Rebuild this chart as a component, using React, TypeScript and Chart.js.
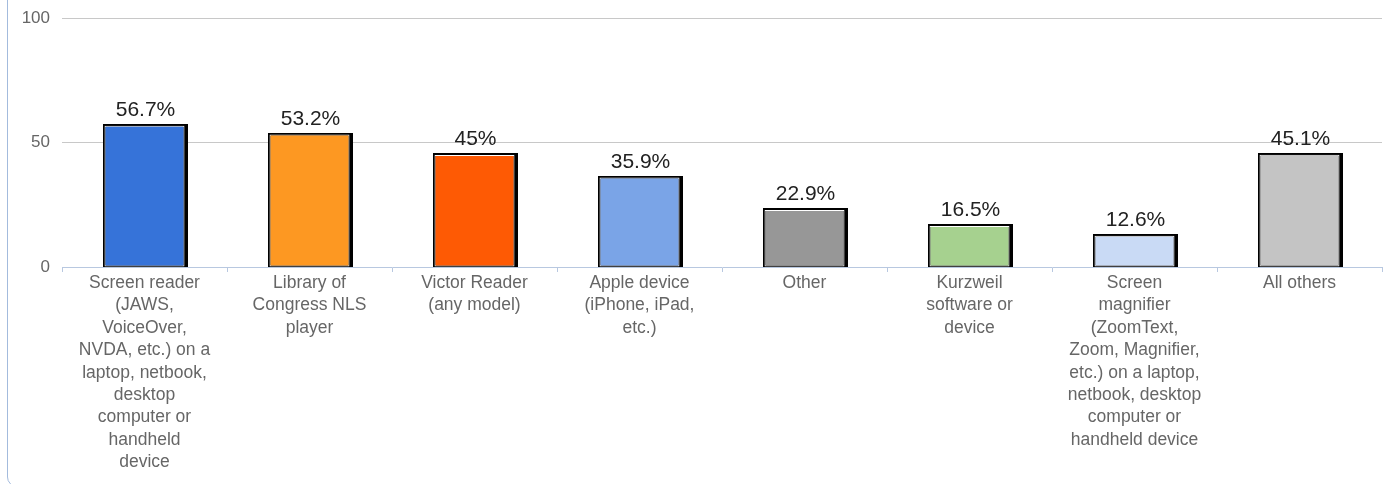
import React, { useEffect, useRef } from "react";
import { Chart, registerables } from "chart.js";

Chart.register(...registerables);

const categories: string[][] = [
  ["Screen reader", "(JAWS,", "VoiceOver,", "NVDA, etc.) on a", "laptop, netbook,", "desktop", "computer or", "handheld", "device"],
  ["Library of", "Congress NLS", "player"],
  ["Victor Reader", "(any model)"],
  ["Apple device", "(iPhone, iPad,", "etc.)"],
  ["Other"],
  ["Kurzweil", "software or", "device"],
  ["Screen", "magnifier", "(ZoomText,", "Zoom, Magnifier,", "etc.) on a laptop,", "netbook, desktop", "computer or", "handheld device"],
  ["All others"],
];

const values: number[] = [56.7, 53.2, 45, 35.9, 22.9, 16.5, 12.6, 45.1];
const valueLabels: string[] = ["56.7%", "53.2%", "45%", "35.9%", "22.9%", "16.5%", "12.6%", "45.1%"];

const barColors: string[] = [
  "#3673d9",
  "#fd9822",
  "#fe5a04",
  "#7aa4e7",
  "#979797",
  "#a6d18f",
  "#c9daf5",
  "#c4c4c4",
];

const yTicks: number[] = [0, 50, 100];

const FONT = "'Liberation Sans', Arial, sans-serif";

const shadowPlugin = {
  id: "barShadow",
  beforeDatasetsDraw(chart: any) {
    const ctx = chart.ctx;
    const meta = chart.getDatasetMeta(0);
    ctx.save();
    ctx.fillStyle = "#000";
    meta.data.forEach((el: any) => {
      const { x, y, base, width } = el.getProps(["x", "y", "base", "width"], true);
      const left = x - width / 2;
      ctx.fillRect(Math.round(left - 1), Math.round(y - 2), Math.round(width + 5), Math.round(base - y + 2));
    });
    ctx.restore();
  },
  afterDatasetsDraw(chart: any) {
    const ctx = chart.ctx;
    const meta = chart.getDatasetMeta(0);
    ctx.save();
    ctx.fillStyle = "#222";
    ctx.font = `21px ${FONT}`;
    ctx.textAlign = "center";
    ctx.textBaseline = "alphabetic";
    meta.data.forEach((el: any, i: number) => {
      const { x, y } = el.getProps(["x", "y"], true);
      ctx.fillText(valueLabels[i], x + 1, y - 10);
    });
    ctx.restore();
  },
};

export default function App() {
  const canvasRef = useRef<HTMLCanvasElement>(null);

  useEffect(() => {
    if (!canvasRef.current) return;
    const chart = new Chart(canvasRef.current, {
      type: "bar",
      data: {
        labels: categories,
        datasets: [
          {
            data: values,
            backgroundColor: barColors,
            borderColor: "#ffffff",
            borderWidth: 1,
            borderSkipped: false,
            categoryPercentage: 1,
            barPercentage: 0.485,
          },
        ],
      },
      options: {
        responsive: false,
        animation: false,
        devicePixelRatio: 1,
        layout: { padding: { left: 0, right: 8, top: 18, bottom: 5 } },
        plugins: {
          legend: { display: false },
          tooltip: { enabled: false },
        },
        scales: {
          x: {
            afterFit(scale: any) {
              scale.height = 212;
              scale.paddingLeft = 0;
              scale.paddingRight = 0;
            },
            grid: {
              offset: true,
              drawOnChartArea: false,
              drawTicks: true,
              tickLength: 5,
              color: "#b8c8e0",
            },
            border: { display: true, color: "#b8c8e0", width: 1 },
            ticks: {
              color: "#666666",
              font: { family: FONT, size: 17.5, lineHeight: 1.28 },
              padding: 0,
              maxRotation: 0,
              minRotation: 0,
              autoSkip: false,
            },
          },
          y: {
            min: 0,
            max: 100,
            afterFit(scale: any) {
              scale.width = 62;
              scale.paddingTop = 0;
              scale.paddingBottom = 0;
            },
            afterBuildTicks(scale: any) {
              scale.ticks = yTicks.map((v) => ({ value: v }));
            },
            grid: {
              drawTicks: false,
              color: (c: any) => (c.tick && c.tick.value === 0 ? "rgba(0,0,0,0)" : "#c8c8c8"),
              lineWidth: 1,
            },
            border: { display: false },
            ticks: {
              color: "#666666",
              font: { family: FONT, size: 17 },
              padding: 12,
            },
          },
        },
      },
      plugins: [shadowPlugin],
    });
    return () => chart.destroy();
  }, []);

  return (
    <div style={{ position: "fixed", left: 0, top: 0, width: 1390, height: 484, overflow: "hidden", background: "#fff" }}>
      <div
        style={{
          position: "absolute",
          left: 7,
          top: -12,
          width: 1500,
          height: 497,
          border: "1px solid #a3bbdd",
          borderRadius: 10,
        }}
      />
      <canvas
        ref={canvasRef}
        width={1390}
        height={484}
        style={{ position: "absolute", left: 0, top: 0, width: 1390, height: 484 }}
      />
    </div>
  );
}
